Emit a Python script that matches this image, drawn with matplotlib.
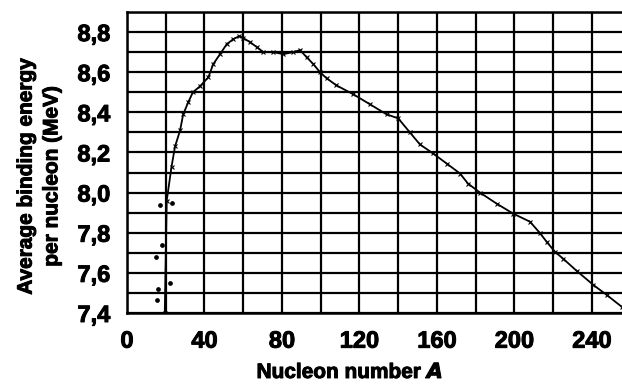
import numpy as np
import matplotlib
matplotlib.use("Agg")
import matplotlib.pyplot as plt
import matplotlib.patheffects as pe
from matplotlib.ticker import MultipleLocator

plt.rcParams["font.family"] = ["Liberation Sans", "DejaVu Sans"]
plt.rcParams["font.weight"] = "bold"

# binding energy curve
mass_number = [19.5, 20.5, 23, 24.8, 27.4, 29, 31.6, 34, 37.7, 42, 44.5, 48, 51.5,
               54.9, 58, 60, 63.5, 67, 70.4, 75.5, 80.7, 85.8, 89.3, 92.7, 96.2,
               99.6, 103, 108, 116.8, 125.4, 134, 140, 146, 151.2, 158, 165, 171.9,
               176, 182.2, 190.8, 199.4, 208, 213, 216.6, 220.9, 225.2, 232.1,
               240.7, 247.6, 255.5]
binding_energy = [7.40, 7.96, 8.13, 8.23, 8.31, 8.39, 8.45, 8.50, 8.53, 8.575, 8.64,
                  8.69, 8.74, 8.765, 8.78, 8.77, 8.75, 8.725, 8.70, 8.70, 8.69, 8.70,
                  8.71, 8.675, 8.64, 8.60, 8.57, 8.535, 8.49, 8.44, 8.39, 8.37, 8.30,
                  8.24, 8.195, 8.145, 8.095, 8.045, 8.00, 7.945, 7.895, 7.855, 7.80,
                  7.755, 7.705, 7.67, 7.61, 7.54, 7.49, 7.43]

# light nuclei scattered off the curve
light_a = [14.8, 15.3, 16.2, 17, 17.9, 22.2, 23.4]
light_be = [7.68, 7.465, 7.52, 7.94, 7.74, 7.55, 7.95]

x_ticks = [0, 40, 80, 120, 160, 200, 240]
y_ticks = [7.4, 7.6, 7.8, 8.0, 8.2, 8.4, 8.6, 8.8]
y_tick_labels = ["7,4", "7,6", "7,8", "8,0", "8,2", "8,4", "8,6", "8,8"]

heavy = [pe.withStroke(linewidth=0.7, foreground="black")]

fig = plt.figure(figsize=(6.22, 3.86), dpi=100)
ax = fig.add_axes([127 / 622, 73 / 386, 495 / 622, 301 / 386])

ax.plot(mass_number, binding_energy, color="black", lw=1.3,
        marker="x", markersize=2.5, markeredgewidth=0.8, zorder=3)
ax.plot(light_a, light_be, "o", color="black", markersize=2.4, zorder=3)

ax.set_xlim(0, 255.5)
ax.set_ylim(7.4, 8.9)

ax.set_xticks(x_ticks)
ax.set_xticklabels([str(v) for v in x_ticks])
ax.set_yticks(y_ticks)
ax.set_yticklabels(y_tick_labels)
ax.xaxis.set_minor_locator(MultipleLocator(20))
ax.yaxis.set_minor_locator(MultipleLocator(0.1))

ax.tick_params(which="both", length=0)
ax.tick_params(axis="both", pad=12, labelsize=17)
for lab in ax.get_xticklabels() + ax.get_yticklabels():
    lab.set_fontweight("bold")
    lab.set_path_effects(heavy)

ax.grid(True, which="both", color="black", lw=1.6)

for side in ["left", "top", "bottom"]:
    ax.spines[side].set_linewidth(1.8)
ax.spines["right"].set_visible(False)

fig.text(350 / 622, 1 - 372 / 386, "Nucleon number $\\bfit{A}$", ha="center",
         va="center", fontsize=15, fontweight="bold", path_effects=heavy)
fig.text(39 / 622, 1 - 176 / 386, "Average binding energy\nper nucleon (MeV)",
         ha="center", va="center", rotation=90, fontsize=15,
         fontweight="bold", multialignment="center", linespacing=1.45,
         path_effects=heavy)

fig.savefig("out.png", dpi=100)
